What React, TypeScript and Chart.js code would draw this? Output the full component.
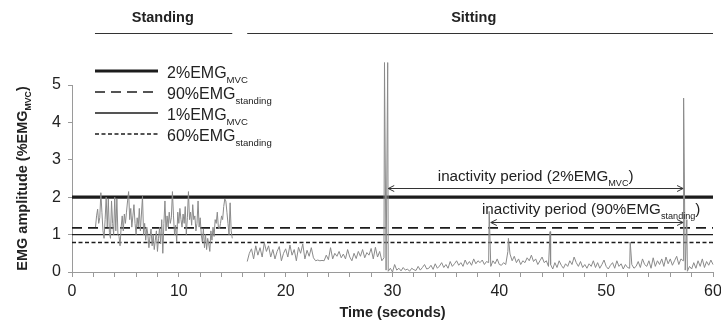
import React, { useEffect, useRef } from 'react';
import { Chart, registerables } from 'chart.js';

Chart.register(...registerables);

// ---------------- data ----------------
const STANDING_START = 2.2; // seconds
const STANDING_STEP = 0.1;
const standingValues = [
  1.2, 1.5, 1.68, 1.3, 1.45, 2.12, 1.6, 1.1, 0.9,
  1.4, 2.0, 1.2, 1.95, 1.05, 0.9, 1.9, 1.3, 1.0, 2.0,
  1.1, 1.95, 1.0, 0.95, 0.7, 1.2, 1.5, 1.1, 1.55, 1.3,
  1.6, 1.9, 2.15, 1.4, 1.7, 1.2, 1.5, 1.8, 1.3, 1.0,
  1.45, 1.2, 1.7, 1.1, 1.55, 2.02, 1.0, 1.3, 0.85, 1.2,
  1.0, 0.65, 0.95, 1.15, 0.7, 1.0, 0.6, 0.85, 1.1, 0.55,
  0.9, 1.2, 0.75, 1.4, 0.5, 1.3, 1.9, 1.1, 1.5, 1.2,
  1.6, 1.3, 1.45, 2.15, 1.5, 1.0, 1.25, 0.8, 1.6, 1.3,
  1.7, 1.4, 1.2, 1.55, 1.3, 1.75, 1.0, 1.45, 2.15, 1.4,
  1.6, 1.25, 1.8, 1.4, 1.5, 1.1, 1.3, 1.9, 1.2, 1.45,
  1.0, 0.8, 1.15, 0.65, 1.0, 0.6, 0.9, 0.75, 0.55, 1.1,
  0.85, 1.2, 0.95, 1.4, 1.3, 1.6, 1.2, 1.15, 1.3, 1.5,
  1.4, 1.75, 1.95, 1.9, 1.6, 1.3, 1.0, 1.85, 1.1, 0.9,
];

const SITTING_START = 16.4; // seconds
const SITTING_STEP = 0.2;
const sittingValues = [
  0.28, 0.5, 0.62, 0.35, 0.7, 0.45, 0.65, 0.4, 0.78, 0.55,
  0.7, 0.4, 0.6, 0.35, 0.55, 0.68, 0.3, 0.5, 0.62, 0.4,
  0.72, 0.45, 0.6, 0.3, 0.66, 0.5, 0.75, 0.35, 0.58, 0.42,
  0.65, 0.38, 0.3, 0.32, 0.3, 0.31, 0.3, 0.45, 0.33, 0.65,
  0.35, 0.5, 0.42, 0.55, 0.38, 0.48, 0.35, 0.6, 0.4, 0.3,
  0.5, 0.36, 0.55, 0.42, 0.6, 0.38, 0.52, 0.45, 0.63, 0.35,
  0.66, 0.4, 0.55, 0.3, 0.38, 0.05, 0.02, 0.1, 0.0, 0.2,
  0.05, 0.1, 0.03, 0.12, 0.05, 0.08, 0.02, 0.1, 0.06, 0.04,
  0.15, 0.05, 0.12, 0.2, 0.08, 0.1, 0.18, 0.07, 0.22, 0.1,
  0.16, 0.25, 0.12, 0.2, 0.1, 0.28, 0.15, 0.22, 0.3, 0.18,
  0.25, 0.15, 0.32, 0.2, 0.28, 0.18, 0.35, 0.22, 0.3, 0.25,
  0.32, 0.2, 0.28, 0.25, 0.15, 0.3, 0.22, 0.35, 0.2, 0.18,
  0.25, 0.2, 0.55, 0.48, 0.3, 0.42, 0.25, 0.35, 0.2, 0.3,
  0.25, 0.38, 0.3, 0.45, 0.28, 0.35, 0.2, 0.3, 0.4, 0.25,
  0.3, 0.15, 0.2, 0.08, 0.25, 0.12, 0.3, 0.18, 0.1, 0.22,
  0.15, 0.3, 0.2, 0.4, 0.25, 0.15, 0.28, 0.12, 0.2, 0.1,
  0.22, 0.15, 0.3, 0.12, 0.25, 0.1, 0.2, 0.32, 0.15, 0.08,
  0.18, 0.25, 0.1, 0.3, 0.15, 0.22, 0.08, 0.2, 0.12, 0.1,
  0.2, 0.1, 0.15, 0.28, 0.12, 0.35, 0.2, 0.15, 0.3, 0.1,
  0.38, 0.15, 0.3, 0.2, 0.35, 0.15, 0.4, 0.22, 0.35, 0.18,
  0.3, 0.42, 0.2, 0.35, 0.3, 0.05, 0.02, 0.15, 0.08, 0.25,
  0.1, 0.3, 0.15, 0.35, 0.12, 0.28, 0.18, 0.32, 0.2,
];

const spikeTimes = [29.25, 29.55, 39.05, 40.85, 44.75, 52.25, 57.25, 57.55];
const spikeValues = [5.6, 5.6, 1.62, 0.9, 1.08, 0.8, 4.65, 1.4];

const thresholdNames = ['2%EMG', '90%EMG', '1%EMG', '60%EMG'];
const thresholdSubs = ['MVC', 'standing', 'MVC', 'standing'];
const thresholdValues = [2.0, 1.18, 1.0, 0.79];

const X_MIN = 0;
const X_MAX = 60;
const X_MINOR_STEP = 2;
const X_LABEL_STEP = 10;
const Y_MIN = 0;
const Y_MAX = 5;

const phaseNames = ['Standing', 'Sitting'];
const phaseStarts = [2.15, 16.4];
const phaseEnds = [15.0, 60];
const phaseLabelCenters = [8.5, 37.6];

const inactivityLabels = ['inactivity period (2%EMG', 'inactivity period (90%EMG'];
const inactivitySubs = ['MVC', 'standing'];
const inactivityStarts = [29.6, 39.2];
const inactivityEnds = [57.2, 57.2];
const inactivityArrowLevels = [2.25, 1.34];
const inactivityTextLevels = [2.42, 1.54];
const inactivityTextCenters = [43.4, 48.6];

// ---------------- styles ----------------
const FONT = '"Liberation Sans", Arial, Helvetica, sans-serif';
const LINE_DARK = '#1c1c1c';
const SIGNAL = '#8a8a8a';
const AXIS = '#9a9a9a';
const TEXT = '#222222';

const thresholdStyles = [
  { width: 3.2, dash: [] as number[] },
  { width: 1.6, dash: [10, 6] },
  { width: 1.4, dash: [] as number[] },
  { width: 1.4, dash: [4, 2.5] },
];

type Pt = { x: number; y: number };

function sampled(start: number, step: number, vals: number[]): Pt[] {
  return vals.map((v, i) => ({ x: Math.round((start + i * step) * 1000) / 1000, y: v }));
}

const standingPoints = sampled(STANDING_START, STANDING_STEP, standingValues);
const sittingPoints = sampled(SITTING_START, SITTING_STEP, sittingValues)
  .concat(spikeTimes.map((t, i) => ({ x: t, y: spikeValues[i] })))
  .sort((a, b) => a.x - b.x);

type Part = { text: string; sub?: boolean };

function partFont(size: number, weight: string, sub?: boolean) {
  return `${weight} ${sub ? size * 0.6 : size}px ${FONT}`;
}

function richWidth(ctx: CanvasRenderingContext2D, parts: Part[], size: number, weight: string) {
  let w = 0;
  for (const p of parts) {
    ctx.font = partFont(size, weight, p.sub);
    w += ctx.measureText(p.text).width;
  }
  return w;
}

function drawRich(
  ctx: CanvasRenderingContext2D,
  parts: Part[],
  x: number,
  baseline: number,
  size: number,
  weight: string,
  align: 'left' | 'center'
) {
  const w = richWidth(ctx, parts, size, weight);
  let cx = align === 'center' ? x - w / 2 : x;
  ctx.textAlign = 'left';
  ctx.textBaseline = 'alphabetic';
  for (const p of parts) {
    ctx.font = partFont(size, weight, p.sub);
    ctx.fillText(p.text, cx, p.sub ? baseline + size * 0.3 : baseline);
    cx += ctx.measureText(p.text).width;
  }
}

const overlayPlugin = {
  id: 'overlay',
  afterDraw(chart: any) {
    const ctx: CanvasRenderingContext2D = chart.ctx;
    const xs = chart.scales.x;
    const ys = chart.scales.y;
    const area = chart.chartArea;
    ctx.save();
    ctx.fillStyle = TEXT;

    // phase headers
    for (let i = 0; i < phaseNames.length; i++) {
      const x0 = xs.getPixelForValue(phaseStarts[i]);
      const x1 = xs.getPixelForValue(phaseEnds[i]);
      ctx.strokeStyle = '#333';
      ctx.lineWidth = 1;
      ctx.setLineDash([]);
      ctx.beginPath();
      ctx.moveTo(x0, 33.5);
      ctx.lineTo(x1, 33.5);
      ctx.stroke();
      drawRich(ctx, [{ text: phaseNames[i] }], xs.getPixelForValue(phaseLabelCenters[i]), 21.5, 14.5, 'bold', 'center');
    }

    // legend
    const legendRows = [71, 92, 113, 134];
    for (let i = 0; i < thresholdNames.length; i++) {
      const yy = legendRows[i];
      ctx.strokeStyle = LINE_DARK;
      ctx.lineWidth = thresholdStyles[i].width;
      ctx.setLineDash(thresholdStyles[i].dash);
      ctx.beginPath();
      ctx.moveTo(95, yy);
      ctx.lineTo(158, yy);
      ctx.stroke();
      ctx.setLineDash([]);
      drawRich(ctx, [{ text: thresholdNames[i] }, { text: thresholdSubs[i], sub: true }], 167, yy + 7, 16, 'normal', 'left');
    }

    // inactivity arrows
    for (let i = 0; i < inactivityStarts.length; i++) {
      const x0 = xs.getPixelForValue(inactivityStarts[i]);
      const x1 = xs.getPixelForValue(inactivityEnds[i]);
      const yy = Math.round(ys.getPixelForValue(inactivityArrowLevels[i])) + 0.5;
      ctx.strokeStyle = '#333';
      ctx.lineWidth = 1;
      ctx.setLineDash([]);
      ctx.beginPath();
      ctx.moveTo(x0, yy);
      ctx.lineTo(x1, yy);
      ctx.moveTo(x0 + 6, yy - 3);
      ctx.lineTo(x0, yy);
      ctx.lineTo(x0 + 6, yy + 3);
      ctx.moveTo(x1 - 6, yy - 3);
      ctx.lineTo(x1, yy);
      ctx.lineTo(x1 - 6, yy + 3);
      ctx.stroke();
      const ty = ys.getPixelForValue(inactivityTextLevels[i]);
      drawRich(
        ctx,
        [{ text: inactivityLabels[i] }, { text: inactivitySubs[i], sub: true }, { text: ')' }],
        xs.getPixelForValue(inactivityTextCenters[i]),
        ty,
        15.2,
        'normal',
        'center'
      );
    }

    // axis titles
    drawRich(ctx, [{ text: 'Time (seconds)' }], (area.left + area.right) / 2, 316.5, 14.5, 'bold', 'center');
    ctx.save();
    ctx.translate(26.5, (area.top + area.bottom) / 2);
    ctx.rotate(-Math.PI / 2);
    drawRich(ctx, [{ text: 'EMG amplitude (%EMG' }, { text: 'MVC', sub: true }, { text: ')' }], 0, 0, 14.5, 'bold', 'center');
    ctx.restore();

    ctx.restore();
  },
};

export default function App() {
  const ref = useRef<HTMLCanvasElement>(null);

  useEffect(() => {
    const canvas = ref.current;
    if (!canvas) return;

    const thresholdDatasets = thresholdValues.map((v, i) => ({
      label: thresholdNames[i] + thresholdSubs[i],
      data: [
        { x: X_MIN, y: v },
        { x: X_MAX, y: v },
      ],
      borderColor: LINE_DARK,
      borderWidth: thresholdStyles[i].width,
      borderDash: thresholdStyles[i].dash,
      pointRadius: 0,
      tension: 0,
      order: 2,
    }));

    const chart = new Chart(canvas, {
      type: 'line',
      data: {
        datasets: [
          {
            label: 'Standing EMG',
            data: standingPoints,
            borderColor: SIGNAL,
            borderWidth: 1,
            pointRadius: 0,
            tension: 0,
            order: 1,
          },
          {
            label: 'Sitting EMG',
            data: sittingPoints,
            borderColor: SIGNAL,
            borderWidth: 1,
            pointRadius: 0,
            tension: 0,
            clip: false as any,
            order: 1,
          },
          ...thresholdDatasets,
        ] as any,
      },
      options: {
        responsive: false,
        animation: false,
        events: [],
        layout: { padding: { top: 85, right: 8, bottom: 0, left: 0 } },
        plugins: {
          legend: { display: false },
          tooltip: { enabled: false },
          title: { display: false },
        },
        scales: {
          x: {
            type: 'linear',
            min: X_MIN,
            max: X_MAX,
            afterFit: (scale: any) => {
              scale.height = 48;
              scale.paddingLeft = 0;
              scale.paddingRight = 0;
            },
            ticks: {
              stepSize: X_MINOR_STEP,
              autoSkip: false,
              maxRotation: 0,
              padding: 5,
              color: TEXT,
              font: { family: FONT, size: 16 },
              callback: (v: any) => (Number(v) % X_LABEL_STEP === 0 ? String(v) : ''),
            },
            grid: { drawOnChartArea: false, drawTicks: true, tickLength: 5, color: AXIS },
            border: { color: AXIS, width: 1 },
          },
          y: {
            type: 'linear',
            min: Y_MIN,
            max: Y_MAX,
            afterFit: (scale: any) => {
              scale.width = 72;
            },
            ticks: {
              stepSize: 1,
              padding: 7,
              color: TEXT,
              font: { family: FONT, size: 16 },
            },
            grid: { drawOnChartArea: false, drawTicks: true, tickLength: 4, color: AXIS },
            border: { color: AXIS, width: 1 },
          },
        },
      } as any,
      plugins: [overlayPlugin],
    });

    return () => chart.destroy();
  }, []);

  return (
    <div style={{ position: 'absolute', left: 0, top: 0, width: 721, height: 320, background: '#fff' }}>
      <canvas ref={ref} width={721} height={320} style={{ display: 'block', width: 721, height: 320 }} />
    </div>
  );
}
